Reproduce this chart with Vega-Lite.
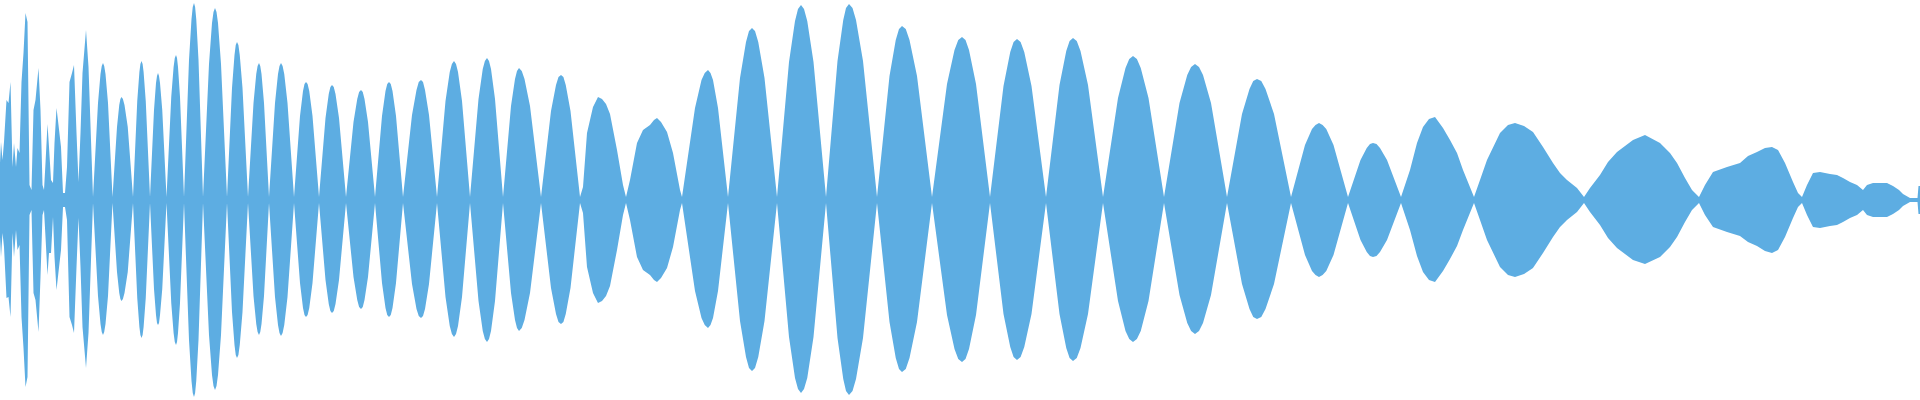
{
  "$schema": "https://vega.github.io/schema/vega-lite/v6.json",
  "width": 1920,
  "height": 400,
  "autosize": {"type": "fit", "contains": "padding"},
  "padding": 0,
  "background": "white",
  "config": {"view": {"stroke": null}},
  "data": {"values": [
    {"t":0,"hi":37,"lo":-37},{"t":1,"hi":58,"lo":-57},{"t":2.5,"hi":40,"lo":-33},{"t":4,"hi":58,"lo":-47},
    {"t":6.5,"hi":100,"lo":-98},{"t":8.5,"hi":97,"lo":-97},{"t":10.5,"hi":118,"lo":-117},{"t":12.5,"hi":33,"lo":-33},
    {"t":14,"hi":57,"lo":-57},{"t":16,"hi":33,"lo":-30},{"t":17.5,"hi":52,"lo":-50},{"t":19.5,"hi":47,"lo":-45},
    {"t":21.5,"hi":118,"lo":-117},{"t":23.5,"hi":147,"lo":-148},{"t":25.5,"hi":187,"lo":-187},{"t":27.5,"hi":178,"lo":-177},
    {"t":29.5,"hi":15,"lo":-15},{"t":31.5,"hi":10,"lo":-10},{"t":33.5,"hi":90,"lo":-93},{"t":35.5,"hi":100,"lo":-100},
    {"t":38.5,"hi":132,"lo":-132},{"t":40.5,"hi":90,"lo":-77},{"t":42.5,"hi":15,"lo":-15},{"t":44,"hi":10,"lo":-10},
    {"t":45.5,"hi":37,"lo":-37},{"t":47.5,"hi":76,"lo":-75},{"t":49,"hi":53,"lo":-53},{"t":51,"hi":20,"lo":-53},
    {"t":53,"hi":17,"lo":-17},{"t":54.5,"hi":57,"lo":-57},{"t":56.5,"hi":92,"lo":-90},{"t":58.5,"hi":75,"lo":-72},
    {"t":61,"hi":53,"lo":-50},{"t":63,"hi":7,"lo":-7},{"t":65,"hi":7,"lo":-7},{"t":67,"hi":33,"lo":-20},
    {"t":69.5,"hi":118,"lo":-117},{"t":72,"hi":127,"lo":-125},{"t":74,"hi":135,"lo":-133},{"t":76.5,"hi":67,"lo":-67},
    {"t":78.5,"hi":18,"lo":-18},{"t":80.5,"hi":67,"lo":-67},{"t":82.5,"hi":127,"lo":-127},{"t":86,"hi":170,"lo":-168},
    {"t":88.5,"hi":133,"lo":-133},{"t":91,"hi":60,"lo":-60},{"t":93,"hi":3,"lo":-3},
    {"t":98,"hi":97,"lo":-96},{"t":100.5,"hi":126,"lo":-124},{"t":101.75,"hi":134,"lo":-132},{"t":103,"hi":137,"lo":-135},{"t":104.2,"hi":134,"lo":-132},{"t":105.5,"hi":126,"lo":-124},{"t":108,"hi":97,"lo":-96},{"t":112.5,"hi":3,"lo":-3},
    {"t":117,"hi":73,"lo":-72},{"t":119.25,"hi":95,"lo":-93},{"t":120.4,"hi":101,"lo":-99},{"t":121.5,"hi":103,"lo":-101},{"t":122.9,"hi":101,"lo":-99},{"t":124.5,"hi":95,"lo":-93},{"t":127.75,"hi":73,"lo":-72},{"t":133,"hi":3,"lo":-3},
    {"t":137.25,"hi":99,"lo":-98},{"t":139.4,"hi":128,"lo":-127},{"t":140.4,"hi":136,"lo":-135},{"t":141.5,"hi":139,"lo":-138},{"t":142.6,"hi":136,"lo":-135},{"t":143.6,"hi":128,"lo":-127},{"t":145.75,"hi":99,"lo":-98},{"t":150,"hi":3,"lo":-3},
    {"t":154,"hi":90,"lo":-89},{"t":156,"hi":117,"lo":-115},{"t":157,"hi":124,"lo":-123},{"t":158,"hi":127,"lo":-125},{"t":159,"hi":124,"lo":-123},{"t":160,"hi":117,"lo":-115},{"t":162.25,"hi":90,"lo":-89},{"t":166.5,"hi":3,"lo":-3},
    {"t":171.25,"hi":103,"lo":-103},{"t":173.6,"hi":133,"lo":-133},{"t":174.8,"hi":142,"lo":-142},{"t":176,"hi":145,"lo":-145},{"t":177,"hi":142,"lo":-142},{"t":178,"hi":133,"lo":-133},{"t":180,"hi":103,"lo":-103},{"t":184,"hi":3,"lo":-3},
    {"t":189,"hi":140,"lo":-140},{"t":191.5,"hi":181,"lo":-181},{"t":192.75,"hi":193,"lo":-193},{"t":194,"hi":197,"lo":-197},{"t":195.1,"hi":193,"lo":-193},{"t":196.25,"hi":181,"lo":-181},{"t":198.5,"hi":140,"lo":-140},{"t":203,"hi":3,"lo":-3},
    {"t":209,"hi":136,"lo":-135},{"t":212,"hi":177,"lo":-175},{"t":213.5,"hi":188,"lo":-186},{"t":215,"hi":192,"lo":-190},{"t":216.5,"hi":188,"lo":-186},{"t":218,"hi":177,"lo":-175},{"t":221,"hi":136,"lo":-135},{"t":227,"hi":3,"lo":-3},
    {"t":232,"hi":112,"lo":-112},{"t":234.5,"hi":145,"lo":-145},{"t":235.75,"hi":155,"lo":-155},{"t":237,"hi":158,"lo":-158},{"t":238.4,"hi":155,"lo":-155},{"t":239.75,"hi":145,"lo":-145},{"t":242.5,"hi":112,"lo":-112},{"t":248,"hi":3,"lo":-3},
    {"t":253.5,"hi":97,"lo":-96},{"t":256.25,"hi":126,"lo":-124},{"t":257.6,"hi":134,"lo":-132},{"t":259,"hi":137,"lo":-135},{"t":260.25,"hi":134,"lo":-132},{"t":261.5,"hi":126,"lo":-124},{"t":264,"hi":97,"lo":-96},{"t":269,"hi":3,"lo":-3},
    {"t":275,"hi":97,"lo":-97},{"t":278,"hi":126,"lo":-125},{"t":279.5,"hi":134,"lo":-133},{"t":281,"hi":137,"lo":-136},{"t":282.6,"hi":134,"lo":-133},{"t":284.25,"hi":126,"lo":-125},{"t":287.5,"hi":97,"lo":-97},{"t":294,"hi":3,"lo":-3},
    {"t":300,"hi":84,"lo":-83},{"t":303,"hi":109,"lo":-108},{"t":304.5,"hi":116,"lo":-115},{"t":306,"hi":118,"lo":-117},{"t":307.6,"hi":116,"lo":-115},{"t":309.25,"hi":109,"lo":-108},{"t":312.5,"hi":84,"lo":-83},{"t":319,"hi":3,"lo":-3},
    {"t":325.5,"hi":82,"lo":-80},{"t":328.75,"hi":106,"lo":-104},{"t":330.4,"hi":113,"lo":-111},{"t":332,"hi":115,"lo":-113},{"t":333.75,"hi":113,"lo":-111},{"t":335.5,"hi":106,"lo":-104},{"t":339,"hi":82,"lo":-80},{"t":346,"hi":3,"lo":-3},
    {"t":353.5,"hi":78,"lo":-77},{"t":357.25,"hi":101,"lo":-100},{"t":359.1,"hi":108,"lo":-107},{"t":361,"hi":110,"lo":-109},{"t":362.75,"hi":108,"lo":-107},{"t":364.5,"hi":101,"lo":-100},{"t":368,"hi":78,"lo":-77},{"t":375,"hi":3,"lo":-3},
    {"t":382,"hi":84,"lo":-83},{"t":385.5,"hi":109,"lo":-108},{"t":387.25,"hi":116,"lo":-115},{"t":389,"hi":118,"lo":-117},{"t":390.75,"hi":116,"lo":-115},{"t":392.5,"hi":109,"lo":-108},{"t":396,"hi":84,"lo":-83},{"t":403,"hi":3,"lo":-3},
    {"t":412,"hi":85,"lo":-84},{"t":416.5,"hi":110,"lo":-109},{"t":418.75,"hi":118,"lo":-116},{"t":421,"hi":120,"lo":-118},{"t":423,"hi":118,"lo":-116},{"t":425,"hi":110,"lo":-109},{"t":429,"hi":85,"lo":-84},{"t":437,"hi":3,"lo":-3},
    {"t":445.5,"hi":99,"lo":-97},{"t":449.75,"hi":128,"lo":-126},{"t":451.9,"hi":136,"lo":-134},{"t":454,"hi":139,"lo":-137},{"t":456,"hi":136,"lo":-134},{"t":458,"hi":128,"lo":-126},{"t":462,"hi":99,"lo":-97},{"t":470,"hi":3,"lo":-3},
    {"t":478.5,"hi":101,"lo":-101},{"t":482.75,"hi":131,"lo":-131},{"t":484.9,"hi":139,"lo":-139},{"t":487,"hi":142,"lo":-142},{"t":489,"hi":139,"lo":-139},{"t":491,"hi":131,"lo":-131},{"t":495,"hi":101,"lo":-101},{"t":503,"hi":3,"lo":-3},
    {"t":511,"hi":94,"lo":-93},{"t":515,"hi":121,"lo":-120},{"t":517,"hi":129,"lo":-128},{"t":519,"hi":132,"lo":-131},{"t":521.75,"hi":129,"lo":-128},{"t":524.5,"hi":121,"lo":-120},{"t":530,"hi":94,"lo":-93},{"t":541,"hi":3,"lo":-3},
    {"t":551,"hi":89,"lo":-88},{"t":556,"hi":115,"lo":-114},{"t":558.5,"hi":123,"lo":-122},{"t":561,"hi":125,"lo":-124},{"t":563.4,"hi":123,"lo":-122},{"t":565.75,"hi":115,"lo":-114},{"t":570.5,"hi":89,"lo":-88},{"t":580,"hi":3,"lo":-3},
    {"t":583,"hi":13,"lo":-13},{"t":587,"hi":67,"lo":-67},{"t":593,"hi":93,"lo":-93},{"t":598,"hi":103,"lo":-103},{"t":602,"hi":101,"lo":-101},{"t":606,"hi":96,"lo":-96},{"t":610,"hi":86,"lo":-86},{"t":617,"hi":50,"lo":-50},{"t":623,"hi":15,"lo":-15},{"t":626,"hi":3,"lo":-3},
    {"t":630,"hi":20,"lo":-20},{"t":637,"hi":57,"lo":-57},{"t":643,"hi":70,"lo":-70},{"t":650,"hi":75,"lo":-75},{"t":654,"hi":80,"lo":-80},{"t":657,"hi":82,"lo":-82},{"t":661,"hi":78,"lo":-78},{"t":667,"hi":68,"lo":-68},{"t":673,"hi":47,"lo":-47},{"t":680,"hi":10,"lo":-10},{"t":682,"hi":3,"lo":-3},
    {"t":695,"hi":92,"lo":-91},{"t":701.5,"hi":120,"lo":-118},{"t":704.75,"hi":127,"lo":-125},{"t":708,"hi":130,"lo":-128},{"t":710.5,"hi":127,"lo":-125},{"t":713,"hi":120,"lo":-118},{"t":718,"hi":92,"lo":-91},{"t":728,"hi":3,"lo":-3},
    {"t":740,"hi":122,"lo":-121},{"t":746,"hi":158,"lo":-157},{"t":749,"hi":169,"lo":-168},{"t":752,"hi":172,"lo":-171},{"t":755,"hi":169,"lo":-168},{"t":758.25,"hi":158,"lo":-157},{"t":764.5,"hi":122,"lo":-121},{"t":777,"hi":3,"lo":-3},
    {"t":789,"hi":138,"lo":-137},{"t":795,"hi":179,"lo":-178},{"t":798,"hi":191,"lo":-189},{"t":801,"hi":195,"lo":-193},{"t":804,"hi":191,"lo":-189},{"t":807.25,"hi":179,"lo":-178},{"t":813.5,"hi":138,"lo":-137},{"t":826,"hi":3,"lo":-3},
    {"t":837.5,"hi":139,"lo":-138},{"t":843.25,"hi":180,"lo":-179},{"t":846,"hi":192,"lo":-191},{"t":849,"hi":196,"lo":-195},{"t":852.5,"hi":192,"lo":-191},{"t":856,"hi":180,"lo":-179},{"t":863,"hi":139,"lo":-138},{"t":877,"hi":3,"lo":-3},
    {"t":889.5,"hi":124,"lo":-122},{"t":895.75,"hi":160,"lo":-158},{"t":899,"hi":171,"lo":-169},{"t":902,"hi":174,"lo":-172},{"t":905.75,"hi":171,"lo":-169},{"t":909.5,"hi":160,"lo":-158},{"t":917,"hi":124,"lo":-122},{"t":932,"hi":3,"lo":-3},
    {"t":947,"hi":116,"lo":-115},{"t":954.5,"hi":150,"lo":-149},{"t":958.25,"hi":160,"lo":-159},{"t":962,"hi":163,"lo":-162},{"t":965.5,"hi":160,"lo":-159},{"t":969,"hi":150,"lo":-149},{"t":976,"hi":116,"lo":-115},{"t":990,"hi":3,"lo":-3},
    {"t":1003.5,"hi":114,"lo":-114},{"t":1010.25,"hi":148,"lo":-147},{"t":1013.6,"hi":158,"lo":-157},{"t":1017,"hi":161,"lo":-160},{"t":1020.6,"hi":158,"lo":-157},{"t":1024.25,"hi":148,"lo":-147},{"t":1031.5,"hi":114,"lo":-114},{"t":1046,"hi":3,"lo":-3},
    {"t":1059.5,"hi":115,"lo":-114},{"t":1066.25,"hi":149,"lo":-148},{"t":1069.6,"hi":159,"lo":-158},{"t":1073,"hi":162,"lo":-161},{"t":1076.75,"hi":159,"lo":-158},{"t":1080.5,"hi":149,"lo":-148},{"t":1088,"hi":115,"lo":-114},{"t":1103,"hi":3,"lo":-3},
    {"t":1118,"hi":102,"lo":-101},{"t":1125.5,"hi":132,"lo":-131},{"t":1129.25,"hi":141,"lo":-139},{"t":1133,"hi":144,"lo":-142},{"t":1136.9,"hi":141,"lo":-139},{"t":1140.75,"hi":132,"lo":-131},{"t":1148.5,"hi":102,"lo":-101},{"t":1164,"hi":3,"lo":-3},
    {"t":1179.5,"hi":97,"lo":-95},{"t":1187.25,"hi":125,"lo":-123},{"t":1191.1,"hi":133,"lo":-131},{"t":1195,"hi":136,"lo":-134},{"t":1199,"hi":133,"lo":-131},{"t":1203,"hi":125,"lo":-123},{"t":1211,"hi":97,"lo":-95},{"t":1227,"hi":3,"lo":-3},
    {"t":1242,"hi":86,"lo":-84},{"t":1249.5,"hi":111,"lo":-109},{"t":1253.25,"hi":119,"lo":-117},{"t":1257,"hi":121,"lo":-119},{"t":1261.25,"hi":119,"lo":-117},{"t":1265.5,"hi":111,"lo":-109},{"t":1274,"hi":86,"lo":-84},{"t":1291,"hi":3,"lo":-3},
    {"t":1305,"hi":55,"lo":-55},{"t":1312,"hi":71,"lo":-71},{"t":1315.5,"hi":75,"lo":-75},{"t":1319,"hi":77,"lo":-77},{"t":1322.6,"hi":75,"lo":-75},{"t":1326.25,"hi":71,"lo":-71},{"t":1333.5,"hi":55,"lo":-55},{"t":1348,"hi":3,"lo":-3},
    {"t":1360.5,"hi":40,"lo":-40},{"t":1366.75,"hi":52,"lo":-52},{"t":1370,"hi":56,"lo":-56},{"t":1373,"hi":57,"lo":-57},{"t":1376.5,"hi":56,"lo":-56},{"t":1380,"hi":52,"lo":-52},{"t":1387,"hi":40,"lo":-40},{"t":1401,"hi":3,"lo":-3},
    {"t":1410,"hi":30,"lo":-30},{"t":1417,"hi":57,"lo":-56},{"t":1423,"hi":73,"lo":-72},{"t":1429,"hi":81,"lo":-80},{"t":1435,"hi":83,"lo":-82},{"t":1443,"hi":72,"lo":-71},{"t":1450,"hi":60,"lo":-59},{"t":1457,"hi":47,"lo":-46},{"t":1463,"hi":30,"lo":-30},{"t":1474,"hi":3,"lo":-3},
    {"t":1480,"hi":20,"lo":-20},{"t":1487,"hi":40,"lo":-40},{"t":1500,"hi":67,"lo":-67},{"t":1508,"hi":75,"lo":-75},{"t":1515,"hi":77,"lo":-77},{"t":1524,"hi":74,"lo":-74},{"t":1533,"hi":68,"lo":-68},{"t":1543,"hi":53,"lo":-53},{"t":1553,"hi":37,"lo":-37},{"t":1560,"hi":27,"lo":-27},{"t":1567,"hi":20,"lo":-20},{"t":1577,"hi":12,"lo":-12},{"t":1584,"hi":3,"lo":-3},
    {"t":1590,"hi":12,"lo":-12},{"t":1600,"hi":25,"lo":-25},{"t":1608,"hi":38,"lo":-38},{"t":1617,"hi":48,"lo":-48},{"t":1633,"hi":60,"lo":-60},{"t":1645,"hi":65,"lo":-64},{"t":1660,"hi":57,"lo":-57},{"t":1670,"hi":47,"lo":-47},{"t":1677,"hi":37,"lo":-37},{"t":1685,"hi":22,"lo":-22},{"t":1692,"hi":10,"lo":-10},{"t":1699,"hi":3,"lo":-3},
    {"t":1705,"hi":15,"lo":-15},{"t":1713,"hi":28,"lo":-27},{"t":1727,"hi":33,"lo":-32},{"t":1740,"hi":37,"lo":-36},{"t":1748,"hi":44,"lo":-42},{"t":1757,"hi":48,"lo":-46},{"t":1765,"hi":52,"lo":-51},{"t":1772,"hi":53,"lo":-53},{"t":1778,"hi":50,"lo":-50},{"t":1785,"hi":37,"lo":-37},{"t":1793,"hi":18,"lo":-18},{"t":1798,"hi":7,"lo":-7},{"t":1802,"hi":3,"lo":-3},
    {"t":1807,"hi":15,"lo":-15},{"t":1813,"hi":27,"lo":-27},{"t":1820,"hi":28,"lo":-28},{"t":1830,"hi":26,"lo":-26},{"t":1837,"hi":25,"lo":-25},{"t":1843,"hi":22,"lo":-22},{"t":1850,"hi":18,"lo":-18},{"t":1857,"hi":15,"lo":-15},{"t":1863,"hi":10,"lo":-10},{"t":1867,"hi":15,"lo":-15},{"t":1873,"hi":17,"lo":-17},{"t":1880,"hi":17,"lo":-17},{"t":1887,"hi":17,"lo":-17},{"t":1893,"hi":14,"lo":-14},{"t":1899,"hi":10,"lo":-10},{"t":1903,"hi":6,"lo":-6},{"t":1910,"hi":2,"lo":-2},{"t":1917.5,"hi":2,"lo":-2},{"t":1918.5,"hi":14,"lo":-14},{"t":1920,"hi":14,"lo":-14}
  ]},
  "mark": {"type": "area", "color": "#5DADE2", "interpolate": "linear"},
  "encoding": {
    "x": {"field": "t", "type": "quantitative", "scale": {"domain": [0, 1920], "nice": false, "zero": false}, "axis": null},
    "y": {"field": "hi", "type": "quantitative", "scale": {"domain": [-200, 200], "nice": false}, "axis": null},
    "y2": {"field": "lo"}
  }
}
